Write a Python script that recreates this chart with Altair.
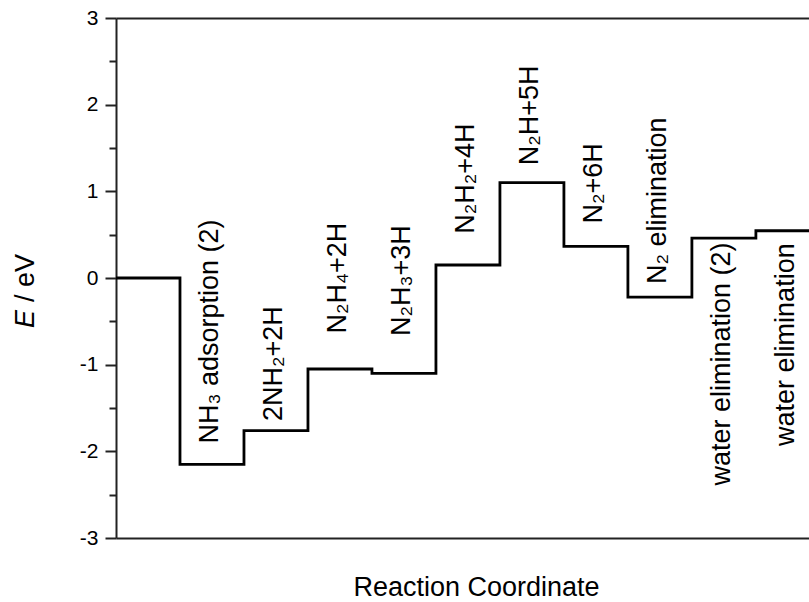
import altair as alt
import pandas as pd

# Energy levels (eV) of each intermediate, in order along the reaction coordinate
energies = [0.0, -2.15, -1.76, -1.05, -1.10, 0.15, 1.10, 0.365, -0.22, 0.46, 0.545]

# Step labels (state reached at step 1..10) and the energy at which each label starts/ends
labels = ["NH₃ adsorption (2)", "2NH₂+2H", "N₂H₄+2H", "N₂H₃+3H", "N₂H₂+4H",
          "N₂H+5H", "N₂+6H", "N₂ elimination", "water elimination (2)", "water elimination"]
label_E = [-1.91, -1.65, -0.64, -0.67, 0.51, 1.30, 0.63, -0.07, 0.41, 0.40]
label_side = ["above"] * 8 + ["below"] * 2

y_major = [-3, -2, -1, 0, 1, 2, 3]
y_minor = [-2.5, -1.5, -0.5, 0.5, 1.5, 2.5]

FONT = "Liberation Sans"

steps = pd.DataFrame({
    "x": list(range(len(energies))) + [len(energies)],
    "E": energies + [energies[-1]],
})
lab = pd.DataFrame({
    "pos": [i + 1.5 for i in range(len(labels))],
    "anchor": label_E,
    "label": labels,
    "side": label_side,
})

xscale = alt.Scale(domain=[0, 10.83], nice=False, zero=False)
yscale = alt.Scale(domain=[-3, 3], nice=False, zero=False)

line = alt.Chart(steps).mark_line(
    interpolate="step-after", color="black", strokeWidth=2.8, clip=True
).encode(
    x=alt.X("x:Q", scale=xscale, axis=alt.Axis(
        orient="bottom", labels=False, ticks=False, grid=False,
        domainWidth=2, domainColor="#222",
        title="Reaction Coordinate", titleFont=FONT, titleFontSize=27,
        titleFontWeight="normal", titleColor="black",
        titleX=360, titleY=57, titleAlign="center", titleBaseline="alphabetic")),
    y=alt.Y("E:Q", scale=yscale, axis=alt.Axis(
        orient="left", values=y_major, grid=False, title=None,
        tickSize=11, tickWidth=2, tickColor="#222",
        domainWidth=2, domainColor="#222",
        labelExpr="replace(datum.label, '\u2212', '-')",
        labelPadding=7, labelFont=FONT, labelFontSize=21, labelColor="black",
        labelFlush=False, labelOverlap=False)),
)

above = alt.Chart(lab).transform_filter(alt.datum.side == "above").mark_text(
    angle=270, align="left", baseline="middle", font=FONT, fontSize=27,
    color="black", dy=-2
).encode(
    x=alt.X("pos:Q", scale=xscale, axis=alt.Axis(
        orient="top", labels=False, ticks=False, grid=False, title=None,
        domainWidth=2, domainColor="#222")),
    y=alt.Y("anchor:Q", scale=yscale, axis=alt.Axis(
        orient="left", values=y_minor, labels=False, domain=False, grid=False,
        title=None, tickSize=7, tickWidth=2, tickColor="#222")),
    text="label:N",
)

below = alt.Chart(lab).transform_filter(alt.datum.side == "below").mark_text(
    angle=270, align="right", baseline="middle", font=FONT, fontSize=27,
    color="black", dy=-2
).encode(
    x=alt.X("pos:Q", scale=xscale, axis=None),
    y=alt.Y("anchor:Q", scale=yscale, axis=None),
    text="label:N",
)

ttl = pd.DataFrame({"t": ["E"], "u": ["/ eV"]})
title_e = alt.Chart(ttl).mark_text(
    angle=270, align="right", baseline="middle", font=FONT, fontSize=27,
    fontStyle="italic", color="black"
).encode(x=alt.value(-90), y=alt.value(292), text="t:N")
title_u = alt.Chart(ttl).mark_text(
    angle=270, align="left", baseline="middle", font=FONT, fontSize=27,
    color="black", dx=8
).encode(x=alt.value(-90), y=alt.value(292), text="u:N")

chart = alt.layer(line, above, below, title_e, title_u).resolve_axis(
    x="independent", y="independent"
).properties(
    width=693, height=520,
    autosize=alt.AutoSizeParams(type="none"),
    padding={"left": 116, "top": 18, "right": 0, "bottom": 64},
    background="white",
).configure_view(stroke=None)

chart.save("out.html", embed_options={"renderer": "svg", "actions": False})
